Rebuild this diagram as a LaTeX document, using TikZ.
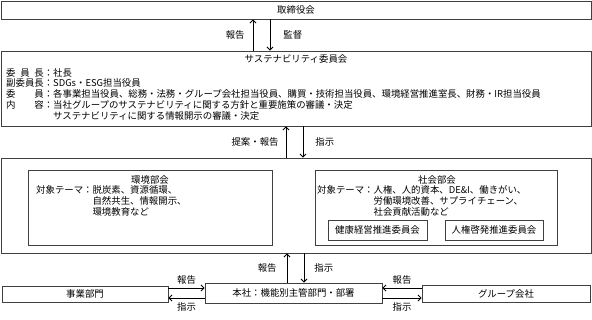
\documentclass[tikz,border=0pt]{standalone}
\usepackage{fontspec}
\setmainfont{Noto Sans CJK JP}
\usetikzlibrary{arrows.meta}

\newcommand{\yaku}[1]{\makebox[4em][s]{#1}：}

\begin{document}
\begin{tikzpicture}[x=1pt,y=-1pt,>={Straight Barb[length=3pt,width=6pt]},
    font=\fontsize{9.4}{9.6}\selectfont,
    waku/.style={draw=black!75, line width=0.8pt, inner sep=0pt},
    yaji/.style={->, line width=0.9pt},
    lbl/.style={inner sep=0pt}]
    \useasboundingbox (0,0) rectangle (592,320);

    \node[waku, minimum width=590pt, minimum height=18pt] (board) at (296,10) {取締役会};
    \node[waku, minimum width=590pt, minimum height=75pt] (sc) at (296,88.5) {};
    \node (sctitle) at (296,59) {サステナビリティ委員会};
    \node[anchor=north west, inner sep=0pt] (scmem) at (6,68) {%
        \begin{tabular}{@{}l@{}l@{}}
        \yaku{委 員 長} & 社長\\
        \yaku{副委員長} & SDGs・ESG担当役員\\
        \yaku{委 員} & 各事業担当役員、総務・法務・グループ会社担当役員、購買・技術担当役員、環境経営推進室長、財務・IR担当役員\\
        \yaku{内 容} & 当社グループのサステナビリティに関する方針と重要施策の審議・決定\\
        & サステナビリティに関する情報開示の審議・決定
        \end{tabular}};

    \node[waku, minimum width=590pt, minimum height=95pt] (bukai) at (296,205.5) {};
    \node[waku, minimum width=244pt, minimum height=75pt] (env) at (150,207.5) {};
    \node (envtitle) at (150,180) {環境部会};
    \node[anchor=north west, inner sep=0pt] (envtheme) at (36,185.5) {%
        \begin{tabular}{@{}l@{}l@{}}
        対象テーマ：& 脱炭素、資源循環、\\
        & 自然共生、情報開示、\\
        & 環境教育など
        \end{tabular}};
    \node[waku, minimum width=242pt, minimum height=75pt] (soc) at (436,207.5) {};
    \node (soctitle) at (437,180) {社会部会};
    \node[anchor=north west, inner sep=0pt] (soctheme) at (317,185.5) {%
        \begin{tabular}{@{}l@{}l@{}}
        対象テーマ：& 人権、人的資本、DE\&I、働きがい、\\
        & 労働環境改善、サプライチェーン、\\
        & 社会貢献活動など
        \end{tabular}};
    \node[waku, minimum width=99pt, minimum height=20pt] (kenko) at (377.5,230) {健康経営推進委員会};
    \node[waku, minimum width=98pt, minimum height=20pt] (jinken) at (494,230) {人権啓発推進委員会};

    \node[waku, minimum width=166pt, minimum height=16pt] (jigyo) at (85,294) {事業部門};
    \node[waku, minimum width=177pt, minimum height=20pt] (honsha) at (293.5,293) {本社：機能別主管部門・部署};
    \node[waku, minimum width=168pt, minimum height=17pt] (group) at (506,293.5) {グループ会社};

    \draw[yaji] ([xshift=-43pt]sc.north) -- node[lbl, left=8pt] {報告} ([xshift=-43pt]sc.north |- board.south);
    \draw[yaji] ([xshift=-26pt]board.south) -- node[lbl, right=13pt] {監督} ([xshift=-26pt]board.south |- sc.north);

    \draw[yaji] ([xshift=-10pt]bukai.north) -- node[lbl, left=7pt] {提案・報告} ([xshift=-10pt]bukai.north |- sc.south);
    \draw[yaji] ([xshift=7pt]sc.south) -- node[lbl, right=12pt] {指示} ([xshift=7pt]sc.south |- bukai.north);

    \draw[yaji] ([xshift=-6.5pt]honsha.north) -- node[lbl, left=10pt] {報告} ([xshift=-6.5pt]honsha.north |- bukai.south);
    \draw[yaji] ([xshift=10.5pt]honsha.north |- bukai.south) -- node[lbl, right=10pt] {指示} ([xshift=10.5pt]honsha.north);

    \draw[yaji] ([yshift=5pt]honsha.west -| jigyo.east) -- node[lbl, above=3pt] {報告} ([yshift=5pt]honsha.west);
    \draw[yaji] ([yshift=-5pt]honsha.west) -- node[lbl, below=4pt] {指示} ([yshift=-5pt]honsha.west -| jigyo.east);
    \draw[yaji] ([yshift=5pt]honsha.east -| group.west) -- node[lbl, above=3pt] {報告} ([yshift=5pt]honsha.east);
    \draw[yaji] ([yshift=-5pt]honsha.east) -- node[lbl, below=4pt] {指示} ([yshift=-5pt]honsha.east -| group.west);
\end{tikzpicture}
\end{document}
